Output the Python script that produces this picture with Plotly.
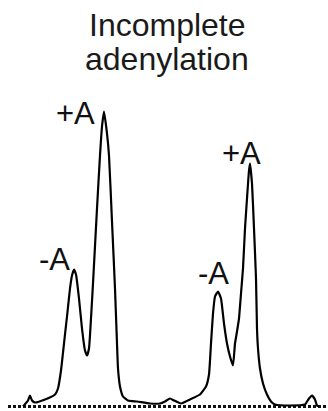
import plotly.graph_objects as go

# Electropherogram trace (x: migration position, y: signal intensity)
pos = [23, 28, 30, 32, 35, 45, 55, 58, 61, 64, 67, 70, 72, 74, 76, 79, 82, 85, 87, 89,
       91, 93, 97, 100, 102, 104, 107, 109, 112, 115, 117, 118, 120, 123, 128, 137, 150,
       160, 165, 170, 174, 181, 190, 200, 206, 209, 211, 213, 215, 218, 221, 224, 227,
       230, 233, 235, 237, 239, 241, 243, 245, 247, 249, 250, 252, 254, 256, 257, 258,
       260, 263, 267, 271, 275, 290, 305, 309, 312, 315, 317, 319]
signal = [0, 6, 11, 6, 4, 7, 12, 18, 36, 63, 90, 118, 131, 137, 132, 108, 78, 56, 51, 58,
          88, 123, 198, 251, 280, 295, 273, 251, 185, 118, 63, 38, 20, 10, 6, 5, 3,
          3, 5, 8, 6, 3, 7, 12, 20, 32, 63, 93, 110, 115, 108, 83, 63,
          50, 41, 63, 75, 88, 113, 138, 178, 208, 236, 243, 223, 178, 128, 78, 58,
          38, 23, 12, 5, 2, 1, 2, 8, 11, 7, 1, 0]

base_x = [8, 328]
base_y = [0, 0]

title_lines = ["Incomplete", "adenylation"]
title_y_px = [25, 59]
peak_labels = ["+A", "-A", "+A", "-A"]
label_x = [75, 54, 241, 213]
label_y = [293, 147, 253, 133]

FONT = "Liberation Sans, Arial"

fig = go.Figure()
fig.add_trace(go.Scatter(x=base_x, y=base_y, mode="lines",
                         line=dict(color="#111111", width=3, dash="3px,2px"),
                         hoverinfo="skip"))
fig.add_trace(go.Scatter(x=pos, y=signal, mode="lines",
                         line=dict(color="#000000", width=2.2, shape="spline", smoothing=0.4),
                         hoverinfo="skip"))

annotations = []
for t, ypx in zip(title_lines, title_y_px):
    annotations.append(dict(x=167 / 328, y=1 - ypx / 411, xref="paper", yref="paper",
                            text=t, showarrow=False, xanchor="center", yanchor="middle",
                            font=dict(family=FONT, size=32, color="#1a1a1a")))
for t, xx, yy in zip(peak_labels, label_x, label_y):
    annotations.append(dict(x=xx, y=yy, xref="x", yref="y", text=t, showarrow=False,
                            xanchor="center", yanchor="middle",
                            font=dict(family=FONT, size=31, color="#111111")))

fig.update_layout(
    width=328, height=411,
    margin=dict(l=0, r=0, t=0, b=0),
    paper_bgcolor="white", plot_bgcolor="white",
    showlegend=False,
    xaxis=dict(range=[0, 328], visible=False, fixedrange=True),
    yaxis=dict(range=[-4.5, 406.5], visible=False, fixedrange=True),
    annotations=annotations,
)

fig.write_html("out.html")
